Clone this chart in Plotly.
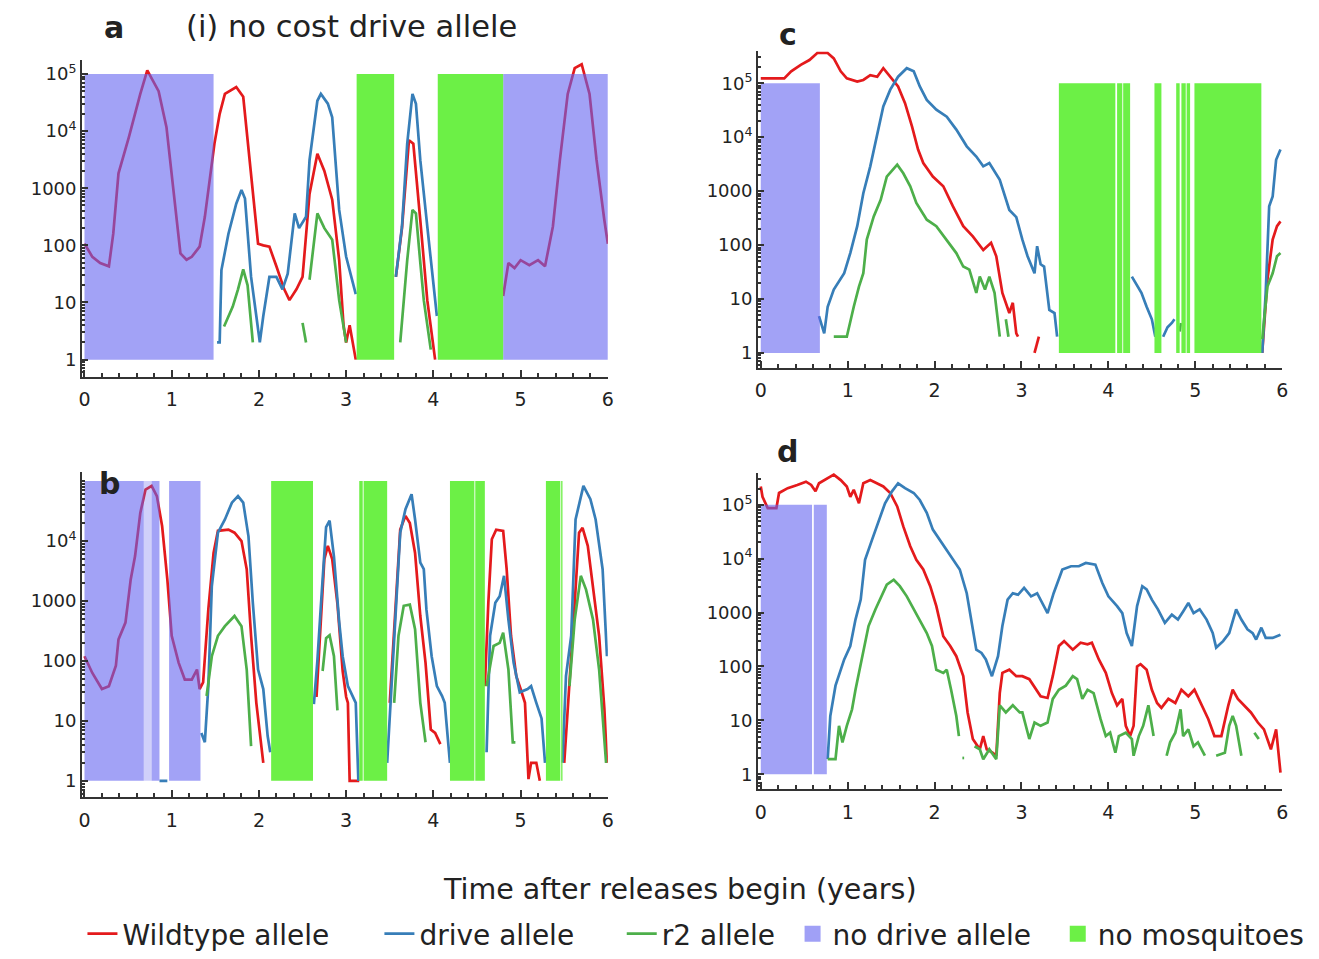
import plotly.graph_objects as go

# ---------------- colours ----------------
RED = "#e41a1c"
BLUE = "#377eb8"
GREEN = "#4daf4a"
NODRIVE_FILL = "rgba(100,100,240,0.6)"
NODRIVE_FAINT = "rgba(100,100,240,0.3)"
NODRIVE_LEGEND = "rgb(160,160,246)"
NOMOSQ_FILL = "rgb(108,240,70)"

GAP = (None, None)

# ---------------- panel a ----------------
A_WT = [(0, 107), (.09, 63), (.18, 49), (.28, 43), (.33, 160), (.39, 1820), (.51, 7940), (.64, 4.47e4),
        (.72, 1.15e5), (.85, 5e4), (.94, 1.17e4), (1.02, 794), (1.1, 72), (1.17, 56), (1.23, 63), (1.32, 95),
        (1.38, 316), (1.49, 6030), (1.55, 2e4), (1.61, 4.47e4), (1.68, 5.2e4), (1.74, 5.89e4), (1.82, 3.98e4),
        (1.91, 1580), (1.99, 107), (2.05, 100), (2.12, 95), (2.2, 43), (2.29, 17), (2.35, 11), (2.43, 17),
        (2.5, 28), (2.58, 794), (2.67, 4000), (2.75, 2000), (2.84, 631), (2.92, 55), (2.97, 4), (3.0, 2),
        (3.04, 4), (3.11, 1), GAP, (3.57, 28), (3.64, 200), (3.72, 6920), (3.77, 6000), (3.85, 275),
        (3.93, 11), (4.02, 1), GAP, (4.8, 13), (4.86, 49), (4.93, 40), (5.0, 55), (5.1, 45), (5.2, 55),
        (5.28, 43), (5.37, 214), (5.45, 3090), (5.54, 4.47e4), (5.62, 1.26e5), (5.7, 1.48e5), (5.79, 4.47e4),
        (5.87, 3160), (5.96, 275), (6.0, 107)]
A_DR = [(1.52, 2), (1.55, 2), (1.57, 37), (1.65, 158), (1.74, 537), (1.8, 933), (1.84, 660), (1.91, 28),
        (1.97, 5.8), (2.01, 2), (2.05, 5.8), (2.12, 28), (2.2, 28), (2.27, 17), (2.33, 32), (2.41, 363),
        (2.46, 200), (2.54, 316), (2.58, 3090), (2.67, 3.39e4), (2.71, 4.47e4), (2.79, 3.02e4), (2.84, 1.74e4),
        (2.92, 417), (3.0, 63), (3.11, 14), GAP, (3.57, 28), (3.64, 214), (3.7, 6030), (3.76, 4.47e4),
        (3.8, 3e4), (3.85, 3090), (3.93, 214), (4.04, 5.8)]
A_R2 = [(1.6, 3.8), (1.7, 8.5), (1.76, 17), (1.82, 38), (1.87, 20), (1.93, 2), GAP, (2.5, 4.4), (2.54, 2), GAP,
        (2.58, 25), (2.67, 363), (2.75, 200), (2.84, 126), (2.92, 11), (3.0, 2), GAP, (3.62, 2), (3.66, 10),
        (3.7, 55), (3.76, 417), (3.8, 363), (3.85, 50), (3.89, 11), (3.97, 1.5)]
A_NODRIVE = [(0, 1.48), (4.8, 6.0)]
A_NODRIVE_FAINT = []
A_NOMOSQ = [(3.12, 3.55), (4.05, 4.8)]

# ---------------- panel b ----------------
B_WT = [(0, 120), (.09, 63), (.2, 34), (.28, 38), (.36, 83), (.39, 229), (.47, 437), (.53, 2290), (.58, 5620),
        (.64, 2.95e4), (.7, 7.24e4), (.77, 8.32e4), (.83, 5.62e4), (.89, 1.78e4), (.95, 2290), (1.0, 263),
        (1.08, 93), (1.15, 49), (1.23, 49), (1.29, 72), (1.32, 34), (1.36, 44), (1.42, 724), (1.48, 6310),
        (1.53, 1.48e4), (1.65, 1.55e4), (1.72, 1.38e4), (1.8, 1e4), (1.86, 3390), (1.91, 263), (1.97, 20),
        (2.05, 2), GAP, (2.66, 25), (2.7, 240), (2.75, 5000), (2.79, 8300), (2.84, 5000), (2.9, 900),
        (2.96, 68), (3.0, 25), (3.02, 20), (3.04, 1), (3.15, 1), GAP, (3.5, 20), (3.57, 933), (3.62, 1.55e4),
        (3.68, 2.63e4), (3.73, 2e4), (3.79, 6310), (3.85, 562), (3.91, 93), (3.97, 7.2), (4.02, 6.3),
        (4.08, 4.1), GAP, (4.59, 38), (4.63, 933), (4.67, 1.07e4), (4.72, 1.55e4), (4.8, 1.48e4),
        (4.84, 3390), (4.89, 263), (4.95, 56), (5.0, 34), (5.05, 20), (5.09, 1.07), (5.12, 2), (5.18, 2),
        (5.22, 1), GAP, (5.5, 2), (5.56, 38), (5.62, 933), (5.67, 1.38e4), (5.71, 1.66e4), (5.77, 8320),
        (5.83, 1780), (5.9, 263), (5.96, 16), (5.99, 2)]
B_DR = [(.86, 1), (.95, 1), GAP, (1.34, 6.3), (1.38, 4.4), (1.42, 38), (1.46, 1780), (1.53, 1.38e4),
        (1.61, 2.29e4), (1.69, 4.37e4), (1.76, 5.62e4), (1.82, 4.37e4), (1.88, 1.2e4), (1.93, 933), (1.99, 72),
        (2.05, 34), (2.1, 5.6), (2.13, 3), GAP, (2.63, 19), (2.67, 100), (2.71, 832), (2.77, 1.7e4),
        (2.81, 2.19e4), (2.86, 5500), (2.92, 447), (2.96, 120), (3.02, 38), (3.07, 26), (3.11, 20), (3.14, 1),
        GAP, (3.47, 2), (3.51, 20), (3.57, 933), (3.62, 1.38e4), (3.68, 3.39e4), (3.75, 6.03e4), (3.79, 2.29e4),
        (3.85, 4370), (3.89, 3390), (3.92, 724), (3.98, 120), (4.04, 38), (4.1, 26), (4.13, 20), (4.19, 2), GAP,
        (4.61, 3), (4.65, 263), (4.71, 933), (4.76, 1200), (4.81, 2630), (4.86, 490), (4.92, 93), (4.99, 30),
        (5.08, 34), (5.12, 38), (5.18, 20), (5.24, 11), (5.28, 2), GAP, (5.48, 2), (5.52, 56), (5.58, 263),
        (5.63, 2.29e4), (5.72, 8.32e4), (5.8, 5e4), (5.86, 2.29e4), (5.94, 3390), (5.99, 120)]
B_R2 = [(1.4, 26), (1.46, 120), (1.53, 263), (1.61, 380), (1.72, 562), (1.8, 380), (1.86, 72), (1.91, 3.8), GAP,
        (2.73, 68), (2.77, 240), (2.81, 269), (2.86, 120), (2.9, 15), GAP, (3.55, 20), (3.6, 263), (3.66, 832),
        (3.73, 871), (3.79, 339), (3.85, 20), (3.91, 4.4), GAP, (4.61, 38), (4.69, 178), (4.76, 200), (4.8, 295),
        (4.86, 72), (4.91, 4.4), (4.94, 4.4), GAP, (5.56, 38), (5.62, 490), (5.69, 2630), (5.75, 1550),
        (5.83, 490), (5.9, 72), (5.98, 2)]
B_NODRIVE = [(0, 0.68), (0.77, 0.86), (0.97, 1.33)]
B_NODRIVE_FAINT = [(0.68, 0.77)]
B_NOMOSQ = [(2.14, 2.62), (3.15, 3.19), (3.2, 3.47), (4.19, 4.47), (4.48, 4.59), (5.29, 5.455), (5.465, 5.48)]

# ---------------- panel c ----------------
C_WT = [(0, 1.23e5), (.08, 1.23e5), (.27, 1.23e5), (.35, 1.66e5), (.46, 2.19e5), (.56, 2.69e5), (.65, 3.63e5),
        (.77, 3.63e5), (.84, 2.88e5), (.92, 1.66e5), (.99, 1.23e5), (1.11, 1.07e5), (1.18, 1.15e5),
        (1.26, 1.41e5), (1.34, 1.32e5), (1.41, 1.9e5), (1.49, 1.32e5), (1.58, 8.71e4), (1.66, 4.27e4),
        (1.74, 1.58e4), (1.81, 5890), (1.87, 3310), (1.98, 1860), (2.1, 1230), (2.21, 525), (2.33, 224),
        (2.44, 145), (2.56, 81), (2.65, 110), (2.71, 62), (2.78, 13), (2.86, 5.5), (2.9, 8.5), (2.94, 2.3),
        (2.96, 2), GAP, (3.15, 1), (3.2, 2), GAP, (5.77, 1), (5.83, 23), (5.89, 126), (5.94, 224), (5.98, 275)]
C_DR = [(.67, 4.8), (.73, 2.3), (.77, 7.2), (.84, 15), (.96, 30), (1.03, 71), (1.11, 224), (1.18, 912),
        (1.26, 2880), (1.34, 1.17e4), (1.41, 3.72e4), (1.49, 7.59e4), (1.58, 1.32e5), (1.68, 1.9e5),
        (1.76, 1.66e5), (1.83, 8.71e4), (1.91, 4.9e4), (2.02, 3.24e4), (2.14, 2.4e4), (2.25, 1.38e4),
        (2.37, 6760), (2.48, 4370), (2.56, 2880), (2.63, 3310), (2.75, 1620), (2.86, 447), (2.94, 330),
        (3.01, 126), (3.07, 62), (3.15, 30), (3.18, 95), (3.22, 44), (3.26, 40), (3.32, 6.3), (3.38, 5.5),
        (3.41, 2), GAP, (4.27, 26), (4.33, 18), (4.38, 13), (4.44, 7.2), (4.5, 4.2), (4.54, 2), GAP, (4.63, 2),
        (4.68, 3), (4.73, 3.6), (4.76, 4.2), GAP, (5.77, 1), (5.81, 13), (5.85, 525), (5.89, 794), (5.93, 3800),
        (5.98, 5890)]
C_R2 = [(.84, 2), (.99, 2), (1.07, 7.2), (1.13, 17), (1.18, 30), (1.22, 126), (1.3, 339), (1.38, 692),
        (1.45, 1860), (1.57, 3090), (1.64, 2140), (1.72, 1230), (1.79, 603), (1.91, 295), (2.02, 224),
        (2.14, 126), (2.25, 71), (2.33, 40), (2.4, 35), (2.48, 13), (2.52, 26), (2.58, 15), (2.63, 26),
        (2.69, 13), (2.75, 2), GAP, (2.82, 4.2), (2.85, 2), GAP, (4.82, 2.5), (4.835, 3.6), GAP,
        (5.77, 1.8), (5.83, 17), (5.89, 30), (5.94, 62), (5.98, 71)]
C_NODRIVE = [(0, 0.68)]
C_NODRIVE_FAINT = []
C_NOMOSQ = [(3.43, 4.08), (4.1, 4.16), (4.17, 4.25), (4.53, 4.61), (4.78, 4.82), (4.84, 4.89), (4.9, 4.94),
            (4.99, 5.76)]

# ---------------- panel d ----------------
D_WT = [(0, 2.19e5), (.02, 1.41e5), (.08, 8.71e4), (.18, 8.71e4), (.21, 1.66e5), (.31, 2.04e5), (.42, 2.34e5),
        (.52, 2.69e5), (.58, 2.34e5), (.63, 1.78e5), (.67, 2.51e5), (.77, 3.09e5), (.84, 3.63e5), (.92, 2.88e5),
        (.99, 2.19e5), (1.03, 1.41e5), (1.07, 1.9e5), (1.13, 1.07e5), (1.18, 2.51e5), (1.26, 2.88e5),
        (1.34, 2.51e5), (1.41, 2.19e5), (1.49, 1.66e5), (1.57, 9.33e4), (1.64, 3.98e4), (1.72, 1.7e4),
        (1.79, 9550), (1.87, 6310), (1.95, 3090), (2.02, 1320), (2.1, 363), (2.18, 240), (2.25, 155),
        (2.33, 66), (2.38, 14), (2.44, 4.5), (2.52, 2.9), (2.56, 5.1), (2.6, 2.9), (2.67, 2.5), (2.71, 2.2),
        (2.75, 32), (2.78, 76), (2.86, 87), (2.94, 66), (3.01, 66), (3.09, 58), (3.17, 37), (3.22, 28),
        (3.3, 26), (3.36, 66), (3.43, 240), (3.49, 295), (3.59, 204), (3.68, 275), (3.76, 257), (3.81, 275),
        (3.89, 135), (3.97, 76), (4.04, 32), (4.1, 19), (4.16, 25), (4.2, 7.9), (4.25, 5.1), (4.29, 7.9),
        (4.33, 100), (4.37, 110), (4.44, 87), (4.5, 37), (4.56, 21), (4.61, 17), (4.69, 25), (4.77, 21),
        (4.84, 37), (4.92, 28), (4.99, 37), (5.07, 19), (5.15, 10.5), (5.22, 5.1), (5.3, 5.1), (5.38, 19),
        (5.43, 37), (5.49, 25), (5.56, 19), (5.64, 14), (5.72, 9.1), (5.79, 6.8), (5.87, 2.9), (5.93, 6.8),
        (5.98, 1.07)]
D_DR = [(.77, 1.9), (.8, 12), (.86, 44), (.96, 135), (1.03, 240), (1.09, 741), (1.15, 1740), (1.2, 9550),
        (1.28, 2.24e4), (1.36, 5.25e4), (1.43, 1.07e5), (1.51, 1.78e5), (1.58, 2.51e5), (1.66, 2.04e5),
        (1.76, 1.66e5), (1.83, 1.23e5), (1.91, 7.08e4), (1.98, 3.47e4), (2.06, 2.24e4), (2.14, 1.48e4),
        (2.21, 9550), (2.29, 6310), (2.37, 2290), (2.44, 490), (2.48, 204), (2.54, 178), (2.59, 135),
        (2.66, 66), (2.73, 155), (2.78, 562), (2.84, 1740), (2.9, 2290), (2.96, 2140), (3.03, 2880),
        (3.11, 2000), (3.18, 2290), (3.24, 1510), (3.3, 977), (3.37, 2290), (3.47, 6310), (3.57, 7240),
        (3.66, 7240), (3.74, 8320), (3.85, 7760), (3.93, 3550), (4.0, 2000), (4.1, 1320), (4.16, 977),
        (4.21, 417), (4.27, 240), (4.33, 1320), (4.39, 3090), (4.44, 2690), (4.5, 1740), (4.57, 1150),
        (4.65, 646), (4.73, 912), (4.8, 741), (4.86, 1050), (4.92, 1510), (4.98, 977), (5.05, 1150),
        (5.13, 741), (5.2, 417), (5.24, 224), (5.32, 295), (5.39, 417), (5.47, 1150), (5.53, 741), (5.6, 490),
        (5.66, 417), (5.7, 316), (5.76, 525), (5.81, 339), (5.89, 339), (5.98, 389)]
D_R2 = [(.77, 1.9), (.86, 1.9), (.9, 7.9), (.94, 3.9), (.99, 7.9), (1.05, 16), (1.09, 37), (1.13, 76),
        (1.18, 178), (1.24, 562), (1.32, 1150), (1.39, 2000), (1.45, 3310), (1.53, 4070), (1.6, 3090),
        (1.68, 2000), (1.76, 1150), (1.83, 741), (1.91, 417), (1.97, 240), (2.02, 87), (2.1, 76), (2.14, 87),
        (2.19, 37), (2.25, 12), (2.28, 5.1), GAP, (2.32, 2), (2.34, 2), GAP, (2.46, 3.3), (2.52, 2.9),
        (2.56, 1.9), (2.63, 2.9), (2.71, 1.9), (2.75, 19), (2.82, 14), (2.9, 19), (2.98, 14), (3.01, 14),
        (3.09, 4.5), (3.15, 9.1), (3.22, 7.9), (3.3, 9.1), (3.36, 25), (3.43, 37), (3.51, 44), (3.59, 66),
        (3.64, 58), (3.7, 25), (3.76, 37), (3.83, 32), (3.91, 10.5), (3.97, 5.1), (4.02, 5.9), (4.08, 2.5),
        (4.12, 5.1), (4.2, 5.9), (4.27, 4.5), (4.29, 2.2), (4.35, 5.1), (4.4, 7.9), (4.46, 19), (4.5, 7.9),
        (4.52, 5.1), GAP, (4.67, 2.2), (4.71, 3.9), (4.77, 5.9), (4.83, 16), (4.86, 5.1), (4.92, 6.8),
        (4.98, 3.3), (5.03, 3.9), (5.11, 2.2), GAP, (5.24, 2.2), (5.34, 2.5), (5.39, 7.9), (5.43, 12),
        (5.47, 7.9), (5.53, 2.2), GAP, (5.68, 5.9), (5.73, 4.5)]
D_NODRIVE = [(0, 0.59), (0.61, 0.76)]
D_NODRIVE_FAINT = []
D_NOMOSQ = []

# ---------------- axis ticks ----------------
X_TICKS = [0, 1, 2, 3, 4, 5, 6]
Y_TICKS = [1, 10, 100, 1000, 1e4, 1e5]
Y_TICKTEXT = ["1", "10", "100", "1000", "10<sup>4</sup>", "10<sup>5</sup>"]
RECT_LO, RECT_HI = 1, 1e5

W, H = 1319, 959

PANELS = [
    dict(name="a", xa="x", ya="y", data=(A_WT, A_DR, A_R2, A_NODRIVE, A_NODRIVE_FAINT, A_NOMOSQ),
         xpx=(79.4, 609), xr=(-0.03, 6.0), ypx=(377, 60), yr=(-0.297, 5.245), nt=6),
    dict(name="b", xa="x2", ya="y2", data=(B_WT, B_DR, B_R2, B_NODRIVE, B_NODRIVE_FAINT, B_NOMOSQ),
         xpx=(79.4, 609), xr=(-0.03, 6.0), ypx=(798, 472), yr=(-0.272, 5.16), nt=5),
    dict(name="c", xa="x3", ya="y3", data=(C_WT, C_DR, C_R2, C_NODRIVE, C_NODRIVE_FAINT, C_NOMOSQ),
         xpx=(760, 1288), xr=(-0.034, 6.0), ypx=(368, 51), yr=(-0.272, 5.598), nt=6),
    dict(name="d", xa="x4", ya="y4", data=(D_WT, D_DR, D_R2, D_NODRIVE, D_NODRIVE_FAINT, D_NOMOSQ),
         xpx=(760, 1288), xr=(-0.034, 6.0), ypx=(790, 473), yr=(-0.278, 5.6), nt=6),
]


def split(pairs):
    return [p[0] for p in pairs], [p[1] for p in pairs]


def rect_path(intervals):
    xs, ys = [], []
    for s, e in intervals:
        xs += [s, e, e, s, s, None]
        ys += [RECT_LO, RECT_LO, RECT_HI, RECT_HI, RECT_LO, None]
    return xs, ys


fig = go.Figure()
layout = dict(width=W, height=H, margin=dict(l=0, r=0, t=0, b=0), plot_bgcolor="white",
              paper_bgcolor="white", font=dict(family="DejaVu Sans", color="#222"), showlegend=True)

AXCOL = "#333"
LW = 2.7
for i, p in enumerate(PANELS):
    wt, dr, r2, nod, nodf, nom = p["data"]
    first = i == 0
    for pairs, col, nm, lg in [(wt, RED, "Wildtype allele", "legend"), (dr, BLUE, "drive allele", "legend2"),
                               (r2, GREEN, "r2 allele", "legend3")]:
        x, y = split(pairs)
        fig.add_trace(go.Scatter(x=x, y=y, mode="lines", line=dict(color=col, width=LW), name=nm,
                                 xaxis=p["xa"], yaxis=p["ya"], showlegend=first, legend=lg,
                                 connectgaps=False, hoverinfo="skip"))
    if nodf:
        x, y = rect_path(nodf)
        fig.add_trace(go.Scatter(x=x, y=y, mode="lines", fill="toself", fillcolor=NODRIVE_FAINT,
                                 line=dict(width=0, color=NODRIVE_FAINT), xaxis=p["xa"], yaxis=p["ya"],
                                 showlegend=False, hoverinfo="skip"))
    if nod:
        x, y = rect_path(nod)
        fig.add_trace(go.Scatter(x=x, y=y, mode="lines", fill="toself", fillcolor=NODRIVE_FILL,
                                 line=dict(width=0, color=NODRIVE_FILL), name="no drive allele",
                                 xaxis=p["xa"], yaxis=p["ya"], showlegend=False, hoverinfo="skip"))
    if nom:
        x, y = rect_path(nom)
        fig.add_trace(go.Scatter(x=x, y=y, mode="lines", fill="toself", fillcolor=NOMOSQ_FILL,
                                 line=dict(width=0, color=NOMOSQ_FILL), name="no mosquitoes",
                                 xaxis=p["xa"], yaxis=p["ya"], showlegend=False, hoverinfo="skip"))

    xk = "xaxis" + p["xa"][1:]
    yk = "yaxis" + p["ya"][1:]
    layout[xk] = dict(domain=[p["xpx"][0] / W, p["xpx"][1] / W], range=list(p["xr"]), anchor=p["ya"],
                      showline=True, linecolor=AXCOL, linewidth=1.5, ticks="inside", ticklen=7,
                      tickwidth=1.5, tickcolor=AXCOL, tickvals=X_TICKS, showgrid=False, zeroline=False,
                      tickfont=dict(size=19, color="#222"), ticklabelstandoff=5,
                      minor=dict(ticks="inside", ticklen=4, dtick=0.2, tickcolor=AXCOL, showgrid=False))
    nt = p["nt"]
    layout[yk] = dict(domain=[1 - p["ypx"][0] / H, 1 - p["ypx"][1] / H], type="log", range=list(p["yr"]),
                      anchor=p["xa"], showline=True, linecolor=AXCOL, linewidth=1.5, ticks="inside",
                      ticklen=6, tickwidth=1.5, tickcolor=AXCOL, tickvals=Y_TICKS[:nt],
                      ticktext=Y_TICKTEXT[:nt], showgrid=False, zeroline=False,
                      tickfont=dict(size=18, color="#222"),
                      minor=dict(ticks="inside", ticklen=3, dtick="D1", tickcolor=AXCOL, showgrid=False))

# legend-only entries for the two shaded-region categories (square swatches)
fig.add_trace(go.Scatter(x=[None], y=[None], mode="markers", name="no drive allele", legend="legend4",
                         marker=dict(symbol="square", size=18, color=NODRIVE_LEGEND), hoverinfo="skip"))
fig.add_trace(go.Scatter(x=[None], y=[None], mode="markers", name="no mosquitoes", legend="legend5",
                         marker=dict(symbol="square", size=18, color=NOMOSQ_FILL), hoverinfo="skip"))

LEG_X = [80, 379, 623, 795, 1062]
for k, lx in enumerate(LEG_X):
    key = "legend" if k == 0 else "legend%d" % (k + 1)
    layout[key] = dict(x=lx / W, y=1 - 935 / H, xanchor="left", yanchor="middle", orientation="h",
                       bgcolor="rgba(0,0,0,0)", font=dict(size=28, color="#222"), itemsizing="trace")

ann = []


def txt(s, xp, yp, size, bold=False):
    ann.append(dict(text=("<b>%s</b>" % s) if bold else s, x=xp / W, y=1 - yp / H, xref="paper",
                    yref="paper", showarrow=False, xanchor="center", yanchor="middle",
                    font=dict(size=size, color="#222")))


txt("a", 112, 28, 30, True)
txt("(i) no cost drive allele", 351, 27, 30.5)
txt("b", 107, 484, 30, True)
txt("c", 790, 35, 30, True)
txt("d", 790, 452, 30, True)
txt("Time after releases begin (years)", 682, 890, 28.5)
layout["annotations"] = ann

fig.update_layout(**layout)
fig.write_html("out.html")
